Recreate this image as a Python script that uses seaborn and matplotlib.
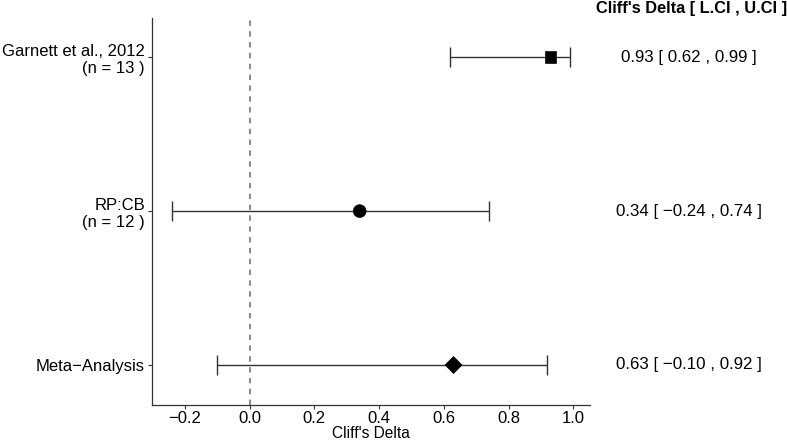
import matplotlib
matplotlib.use("Agg")
import matplotlib.pyplot as plt
import matplotlib.transforms as mtransforms
import seaborn as sns
import pandas as pd

studies = ["Garnett et al., 2012\n(n = 13 )", "RP:CB\n(n = 12 )", "Meta\u2212Analysis"]
estimate = [0.93, 0.34, 0.63]
lower = [0.62, -0.24, -0.10]
upper = [0.99, 0.74, 0.92]
labels_right = ["0.93 [ 0.62 , 0.99 ]", "0.34 [ \u22120.24 , 0.74 ]", "0.63 [ \u22120.10 , 0.92 ]"]
markers = ["s", "o", "D"]
xticks = [-0.2, 0.0, 0.2, 0.4, 0.6, 0.8, 1.0]

sns.set_theme(style="white")
plt.rcParams["font.family"] = ["Liberation Sans", "DejaVu Sans"]

df = pd.DataFrame({"study": studies, "est": estimate, "lo": lower, "hi": upper,
                   "pos": range(len(studies))})

fig = plt.figure(figsize=(7.87, 4.41), dpi=100)
ax = fig.add_axes([152/787, 1-405/441, (590-152)/787, (405-18)/441])

ax.axvline(0, color="#808080", linestyle=(0, (3, 3)), linewidth=1.3, zorder=1)
ax.errorbar(df["est"], df["pos"],
            xerr=[df["est"] - df["lo"], df["hi"] - df["est"]],
            fmt="none", ecolor="#333333", elinewidth=1.0, capsize=7, capthick=1.0, zorder=2)
sns.scatterplot(data=df, x="est", y="pos", style="study", markers=dict(zip(studies, markers)),
                color="black", edgecolor="black", legend=False, ax=ax, zorder=3)
coll = ax.collections[-1]
coll.set_sizes([70, 85, 75])

ax.set_xlim(-0.3015, 1.0515)
ax.set_ylim(2.26, -0.255)
ax.set_yticks(df["pos"])
ax.set_yticklabels(studies, fontsize=12, color="black", ha="right", multialignment="right")
ax.set_xticks(xticks)
ax.set_xticklabels([f"{t:.1f}".replace("-", "\u2212") for t in xticks], fontsize=12, color="black")
ax.set_xlabel("Cliff's Delta", fontsize=11.2, color="black", labelpad=-0.5)
ax.set_ylabel("")
ax.tick_params(axis="both", length=3, width=0.8, color="#333333", pad=1.5, left=True, bottom=True)
ax.tick_params(axis="y", pad=2)
for s in ["top", "right"]:
    ax.spines[s].set_visible(False)
for s in ["left", "bottom"]:
    ax.spines[s].set_color("#333333")
    ax.spines[s].set_linewidth(0.9)

trans = mtransforms.blended_transform_factory(fig.transFigure, ax.transData)
for p, t in zip(df["pos"], labels_right):
    ax.text(689/787, p, t, transform=trans, ha="center", va="center", fontsize=12.2, color="black")
fig.text(692/787, 1-8/441, "Cliff's Delta [ L.CI , U.CI ]", ha="center", va="center",
         fontsize=11.8, fontweight="bold", color="black")

fig.savefig("out.png", dpi=100)
